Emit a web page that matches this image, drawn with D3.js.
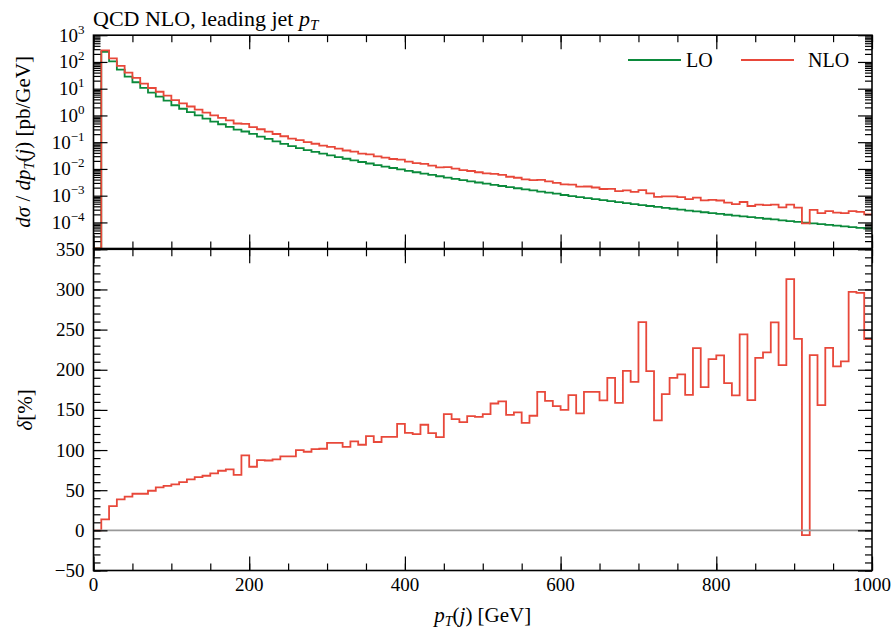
<!DOCTYPE html>
<html>
<head>
<meta charset="utf-8">
<script src="https://cdn.jsdelivr.net/npm/d3@7"></script>
<style>
  body { margin: 0; background: #fff; }
  svg { display: block; }
</style>
</head>
<body>
<div id="chart"></div>
<script>
// histogram: 100 bins of 10 GeV in leading-jet pT
const binWidth = 10;
const pTRange = [0, 1000];

// d(sigma)/dpT [pb/GeV]
const lo = [0, 240, 105, 51.3, 28.2, 17.4, 10.7, 7.08, 5.01, 3.55,
  2.40, 1.78, 1.32, 1.00, 0.759, 0.589, 0.468, 0.372, 0.295, 0.251,
  0.204, 0.162, 0.132, 0.107, 0.0871, 0.0708, 0.0598, 0.0508, 0.0434, 0.0372,
  0.0320, 0.0277, 0.0240, 0.0209, 0.0182, 0.0160, 0.0140, 0.0123, 0.01084, 0.00957,
  0.00847, 0.00752, 0.00668, 0.00596, 0.00532, 0.00476, 0.00428, 0.00384, 0.00345, 0.00311,
  0.00281, 0.00254, 0.00230, 0.00209, 0.00190, 0.00173, 0.00157, 0.00143, 0.00131, 0.00119,
  0.00106, 9.66e-4, 8.83e-4, 8.09e-4, 7.41e-4, 6.79e-4, 6.24e-4, 5.73e-4, 5.27e-4, 4.85e-4,
  4.47e-4, 4.12e-4, 3.80e-4, 3.51e-4, 3.24e-4, 3.00e-4, 2.78e-4, 2.58e-4, 2.40e-4, 2.23e-4,
  2.08e-4, 1.94e-4, 1.81e-4, 1.69e-4, 1.57e-4, 1.47e-4, 1.37e-4, 1.29e-4, 1.20e-4, 1.12e-4,
  1.05e-4, 9.84e-5, 9.23e-5, 8.65e-5, 8.11e-5, 7.60e-5, 7.13e-5, 6.70e-5, 6.30e-5, 5.92e-5];

const nlo = [0, 273, 137, 71.1, 40.0, 25.3, 15.6, 10.6, 7.69, 5.52,
  3.77, 2.85, 2.16, 1.66, 1.275, 1.007, 0.815, 0.654, 0.499, 0.485,
  0.366, 0.304, 0.247, 0.202, 0.167, 0.136, 0.120, 0.1005, 0.0873, 0.0750,
  0.0669, 0.0579, 0.0490, 0.0441, 0.0376, 0.0348, 0.0294, 0.0266, 0.0235, 0.0223,
  0.0188, 0.0165, 0.0155, 0.0132, 0.0115, 0.01165, 0.01021, 0.00902, 0.00836, 0.00751,
  0.00688, 0.00655, 0.00599, 0.00510, 0.00469, 0.00405, 0.00381, 0.00390, 0.00342, 0.00303,
  0.00265, 0.00259, 0.00217, 0.00220, 0.00202, 0.00178, 0.00181, 0.00148, 0.00157, 0.00138,
  0.00161, 0.00123, 9.00e-4, 9.47e-4, 9.40e-4, 8.83e-4, 7.47e-4, 8.43e-4, 6.68e-4, 6.98e-4,
  6.61e-4, 5.50e-4, 4.85e-4, 5.81e-4, 4.12e-4, 4.63e-4, 4.41e-4, 4.63e-4, 3.67e-4, 4.62e-4,
  3.55e-4, 9.26e-5, 2.94e-4, 2.21e-4, 2.65e-4, 2.31e-4, 2.21e-4, 2.66e-4, 2.49e-4, 2.00e-4];

// relative NLO correction delta [%]
const delta = [0, 13.7, 30.2, 38.6, 41.9, 45.6, 45.6, 49.3, 53.5, 55.5,
  57.2, 60.1, 63.4, 66.3, 68.0, 70.9, 74.2, 75.9, 69.2, 93.3,
  79.2, 87.5, 87.0, 88.4, 92.1, 92.1, 100.0, 97.9, 101.2, 101.6,
  109.0, 109.0, 104.0, 110.8, 106.6, 117.4, 110.0, 116.3, 116.5, 132.7,
  121.5, 119.9, 131.5, 121.1, 116.1, 144.8, 138.5, 134.8, 142.3, 141.4,
  144.8, 158.0, 160.6, 143.9, 146.8, 133.9, 142.7, 172.5, 161.3, 154.7,
  150.1, 168.4, 145.6, 172.5, 172.5, 161.8, 190.0, 158.8, 198.7, 185.0,
  259.3, 198.3, 136.9, 169.7, 190.0, 194.2, 168.8, 226.9, 178.4, 213.2,
  217.8, 183.3, 168.0, 244.0, 162.2, 214.9, 221.6, 258.9, 205.8, 312.8,
  238.5, -5.9, 218.2, 156.0, 227.3, 204.1, 210.4, 297.0, 295.8, 238.1];

const xTicks = [0, 200, 400, 600, 800, 1000];
const sigmaExponents = [-4, -3, -2, -1, 0, 1, 2, 3];
const deltaTicks = [-50, 0, 50, 100, 150, 200, 250, 300, 350];
const sigmaDomain = [1.06e-5, 1e3];
const deltaDomain = [-50, 350];

const colors = { LO: '#0b8a3b', NLO: '#e8483a' };
const FONT = '"Liberation Serif", "DejaVu Serif", serif';

const W = 894, H = 637;
const left = 93.5, right = 872;
const topPanel = [35.2, 248.5];
const botPanel = [249.3, 570.5];

const svg = d3.select('#chart').append('svg')
  .attr('width', W).attr('height', H)
  .style('font-family', FONT);

const x = d3.scaleLinear().domain(pTRange).range([left, right]);
const ySig = d3.scaleLog().domain(sigmaDomain).range([topPanel[1], topPanel[0]]).clamp(true);
const yDel = d3.scaleLinear().domain(deltaDomain).range([botPanel[1], botPanel[0]]);

const edges = d3.range(pTRange[0], pTRange[1] + binWidth, binWidth);
function stepPoints(vals) {
  const pts = vals.map((v, i) => [edges[i], v]);
  pts.push([edges[vals.length], vals[vals.length - 1]]);
  return pts;
}
const stepLine = (yScale) => d3.line()
  .x(d => x(d[0]))
  .y(d => yScale(d[1]))
  .curve(d3.curveStepAfter);

// clip paths
const defs = svg.append('defs');
defs.append('clipPath').attr('id', 'clipTop').append('rect')
  .attr('x', left).attr('y', topPanel[0]).attr('width', right - left).attr('height', topPanel[1] - topPanel[0]);
defs.append('clipPath').attr('id', 'clipBot').append('rect')
  .attr('x', left).attr('y', botPanel[0]).attr('width', right - left).attr('height', botPanel[1] - botPanel[0]);

// ----- upper panel -----
const gTop = svg.append('g').attr('clip-path', 'url(#clipTop)');
gTop.append('path')
  .attr('d', stepLine(ySig)(stepPoints(lo)))
  .attr('fill', 'none').attr('stroke', colors.LO).attr('stroke-width', 1.8);
gTop.append('path')
  .attr('d', stepLine(ySig)(stepPoints(nlo)))
  .attr('fill', 'none').attr('stroke', colors.NLO).attr('stroke-width', 1.8);

// ----- lower panel -----
const gBot = svg.append('g').attr('clip-path', 'url(#clipBot)');
gBot.append('path')
  .attr('d', stepLine(yDel)(stepPoints(delta)))
  .attr('fill', 'none').attr('stroke', colors.NLO).attr('stroke-width', 1.8);
gBot.append('line')
  .attr('x1', left).attr('x2', right)
  .attr('y1', yDel(0)).attr('y2', yDel(0))
  .attr('stroke', '#999').attr('stroke-width', 1.8);

// ----- ticks -----
const MAJ = 14, MIN = 7;
function styleAxis(g) {
  g.select('.domain').remove();
  g.selectAll('line').attr('stroke', '#000').attr('stroke-width', 1.2);
  g.selectAll('text').remove();
}
const xMinor = d3.range(0, 1001, 50);
[topPanel, botPanel].forEach(p => {
  svg.append('g').attr('transform', `translate(0,${p[1]})`)
    .call(d3.axisBottom(x).tickValues(xMinor).tickSize(-MIN)).call(styleAxis);
  svg.append('g').attr('transform', `translate(0,${p[1]})`)
    .call(d3.axisBottom(x).tickValues(xTicks).tickSize(-MAJ)).call(styleAxis);
  svg.append('g').attr('transform', `translate(0,${p[0]})`)
    .call(d3.axisTop(x).tickValues(xMinor).tickSize(-MIN)).call(styleAxis);
  svg.append('g').attr('transform', `translate(0,${p[0]})`)
    .call(d3.axisTop(x).tickValues(xTicks).tickSize(-MAJ)).call(styleAxis);
});

const sigMajor = sigmaExponents.map(e => Math.pow(10, e));
const sigMinor = [];
for (let e = -6; e < 3; e++) {
  for (let k = 2; k <= 9; k++) {
    const v = k * Math.pow(10, e);
    if (v >= sigmaDomain[0] && v <= sigmaDomain[1]) sigMinor.push(v);
  }
}
const delMinor = d3.range(-50, 351, 10);

[[d3.axisLeft, left], [d3.axisRight, right]].forEach(([ax, xx]) => {
  svg.append('g').attr('transform', `translate(${xx},0)`)
    .call(ax(ySig).tickValues(sigMinor).tickSize(-MIN)).call(styleAxis);
  svg.append('g').attr('transform', `translate(${xx},0)`)
    .call(ax(ySig).tickValues(sigMajor).tickSize(-MAJ)).call(styleAxis);
  svg.append('g').attr('transform', `translate(${xx},0)`)
    .call(ax(yDel).tickValues(delMinor).tickSize(-MIN)).call(styleAxis);
  svg.append('g').attr('transform', `translate(${xx},0)`)
    .call(ax(yDel).tickValues(deltaTicks).tickSize(-MAJ)).call(styleAxis);
});

// frames
[topPanel, botPanel].forEach(p => {
  svg.append('rect')
    .attr('x', left).attr('y', p[0])
    .attr('width', right - left).attr('height', p[1] - p[0])
    .attr('fill', 'none').attr('stroke', '#000').attr('stroke-width', 1.6);
});

// ----- tick labels -----
const fs = 19;
svg.append('g').selectAll('text').data(xTicks).join('text')
  .attr('x', d => x(d)).attr('y', 591)
  .attr('text-anchor', 'middle').attr('font-size', fs)
  .text(d => d);

svg.append('g').selectAll('text').data(deltaTicks).join('text')
  .attr('x', left - 9).attr('y', d => yDel(d) + 6.5)
  .attr('text-anchor', 'end').attr('font-size', fs)
  .text(d => d < 0 ? '\u2212' + Math.abs(d) : d);

const sigLabels = svg.append('g').selectAll('text').data(sigmaExponents).join('text')
  .attr('x', left - 9).attr('y', d => ySig(Math.pow(10, d)) + 6.5)
  .attr('text-anchor', 'end').attr('font-size', fs);
sigLabels.append('tspan').text('10');
sigLabels.append('tspan')
  .attr('dy', -8).attr('font-size', 13)
  .text(d => d < 0 ? '\u2212' + Math.abs(d) : d);

// ----- titles -----
const title = svg.append('text').attr('x', 93).attr('y', 26).attr('font-size', 22);
title.append('tspan').text('QCD NLO, leading jet ');
title.append('tspan').attr('font-style', 'italic').text('p');
title.append('tspan').attr('font-style', 'italic').attr('font-size', 15).attr('dy', 4).text('T');

const lfs = 21;
const xl = svg.append('text').attr('x', (left + right) / 2).attr('y', 622)
  .attr('text-anchor', 'middle').attr('font-size', lfs);
xl.append('tspan').attr('font-style', 'italic').text('p');
xl.append('tspan').attr('font-style', 'italic').attr('font-size', 14).attr('dy', 4).text('T');
xl.append('tspan').attr('dy', -4).text('(');
xl.append('tspan').attr('font-style', 'italic').text('j');
xl.append('tspan').text(') [GeV]');

const yl = svg.append('text')
  .attr('transform', `translate(30,${(topPanel[0] + topPanel[1]) / 2}) rotate(-90)`)
  .attr('text-anchor', 'middle').attr('font-size', lfs);
yl.append('tspan').attr('font-style', 'italic').text('d\u03c3');
yl.append('tspan').text(' / ');
yl.append('tspan').attr('font-style', 'italic').text('dp');
yl.append('tspan').attr('font-style', 'italic').attr('font-size', 14).attr('dy', 4).text('T');
yl.append('tspan').attr('dy', -4).text('(');
yl.append('tspan').attr('font-style', 'italic').text('j');
yl.append('tspan').text(') [pb/GeV]');

const dl = svg.append('text')
  .attr('transform', `translate(32,${(botPanel[0] + botPanel[1]) / 2}) rotate(-90)`)
  .attr('text-anchor', 'middle').attr('font-size', lfs);
dl.append('tspan').attr('font-style', 'italic').text('\u03b4');
dl.append('tspan').text('[%]');

// ----- legend -----
const legend = [
  { name: 'LO', x0: 628, color: colors.LO },
  { name: 'NLO', x0: 741, color: colors.NLO }
];
const lg = svg.append('g').selectAll('g').data(legend).join('g');
lg.append('line')
  .attr('x1', d => d.x0).attr('x2', d => d.x0 + 53)
  .attr('y1', 60).attr('y2', 60)
  .attr('stroke', d => d.color).attr('stroke-width', 1.8);
lg.append('text')
  .attr('x', d => d.x0 + (d.name === 'LO' ? 58 : 67)).attr('y', 66.5)
  .attr('font-size', 20)
  .text(d => d.name);
</script>
</body>
</html>
